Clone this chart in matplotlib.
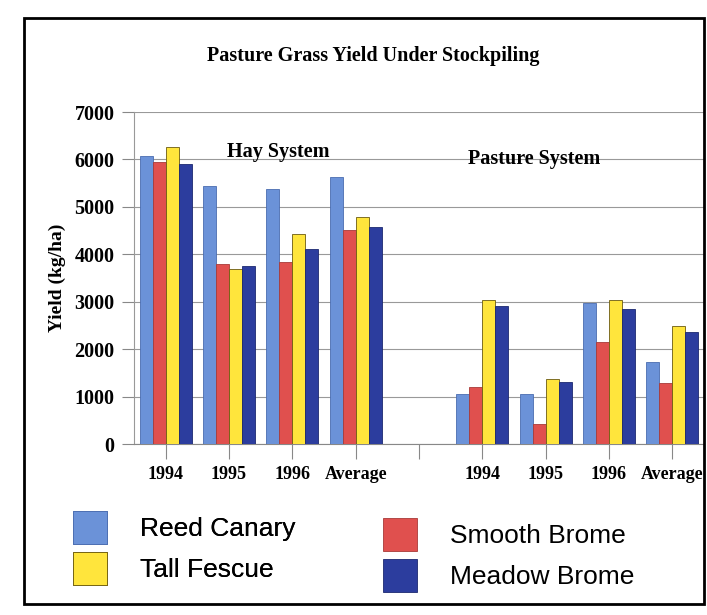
import matplotlib
matplotlib.use("Agg")
import matplotlib.pyplot as plt
import numpy as np
from matplotlib.patches import Rectangle

categories = ["1994", "1995", "1996", "Average", "", "1994", "1995", "1996", "Average"]
series_names = ["Reed Canary", "Smooth Brome", "Tall Fescue", "Meadow Brome"]
reed_canary  = [6080, 5450, 5380, 5640, np.nan, 1060, 1060, 2980, 1720]
smooth_brome = [5940, 3790, 3840, 4520, np.nan, 1210, 420, 2150, 1290]
tall_fescue  = [6260, 3680, 4420, 4780, np.nan, 3040, 1360, 3030, 2480]
meadow_brome = [5900, 3750, 4120, 4580, np.nan, 2920, 1310, 2850, 2370]
yticks = [0, 1000, 2000, 3000, 4000, 5000, 6000, 7000]
colors = ["#6b92d8", "#e0504e", "#ffe53c", "#2c3d9e"]
edges = ["#4a6cb0", "#a83a38", "#6a5a10", "#1c2870"]

W, H = 707, 615
fig = plt.figure(figsize=(W / 100, H / 100), dpi=100)
fig.patch.set_facecolor("white")

serif = "Liberation Serif"
sans = "Liberation Sans"

ax = fig.add_axes([134 / W, 1 - 444 / H, 570 / W, (444 - 112) / H])
x = np.arange(len(categories))
bw = 0.205
data = [reed_canary, smooth_brome, tall_fescue, meadow_brome]
handles = []
for i, (vals, name) in enumerate(zip(data, series_names)):
    b = ax.bar(x + (i - 1.5) * bw, vals, width=bw, color=colors[i],
               edgecolor=edges[i], linewidth=0.6, label=name, zorder=3)
    handles.append(b)

ax.set_xlim(-0.5, len(categories) - 0.5)
ax.set_ylim(0, 7000)
ax.set_yticks(yticks)
ax.set_yticklabels([str(v) for v in yticks], fontfamily=serif,
                   fontweight="bold", fontsize=14.5)
ax.set_xticks(x)
ax.set_xticklabels(categories, fontfamily=serif, fontweight="bold",
                   fontsize=13)
ax.tick_params(axis="y", length=9, width=0.8, color="#888888", pad=5)
ax.tick_params(axis="x", length=11, width=0.8, color="#888888", pad=5)
ax.grid(axis="y", color="#999999", linewidth=0.8, zorder=0)
for s in ["top", "right"]:
    ax.spines[s].set_visible(False)
ax.spines["left"].set_color("#999999")
ax.spines["bottom"].set_color("#888888")
ax.set_ylabel("Yield (kg/ha)", fontfamily=serif, fontweight="bold",
              fontsize=14, labelpad=6)

ax.text(1.77, 6150, "Hay System", fontfamily=serif, fontweight="bold",
        fontsize=14.5, ha="center", va="center", zorder=4)
ax.text(5.82, 6000, "Pasture System", fontfamily=serif, fontweight="bold",
        fontsize=14.5, ha="center", va="center", zorder=4)

fig.text(373 / W, 1 - 56 / H, "Pasture Grass Yield Under Stockpiling",
         fontfamily=serif, fontweight="bold", fontsize=14.5,
         ha="center", va="center")

leg_kw = dict(ncol=1, loc="upper left", frameon=False, borderpad=0,
              borderaxespad=0, prop={"family": sans, "size": 19},
              handlelength=1.29, handleheight=1.55, handletextpad=1.25,
              labelspacing=0.3)
leg1 = fig.legend([handles[0], handles[2]], [series_names[0], series_names[2]],
                  bbox_to_anchor=(73 / W, 1 - 511 / H), **leg_kw)
fig.add_artist(leg1)
leg2 = fig.legend([handles[1], handles[3]], [series_names[1], series_names[3]],
                  bbox_to_anchor=(383 / W, 1 - 518 / H), **leg_kw)

fig.add_artist(Rectangle((24 / W, 1 - 604 / H), (704 - 24) / W, (604 - 18) / H,
                         transform=fig.transFigure, fill=False,
                         edgecolor="black", linewidth=2))

fig.savefig("out.png", dpi=100)
